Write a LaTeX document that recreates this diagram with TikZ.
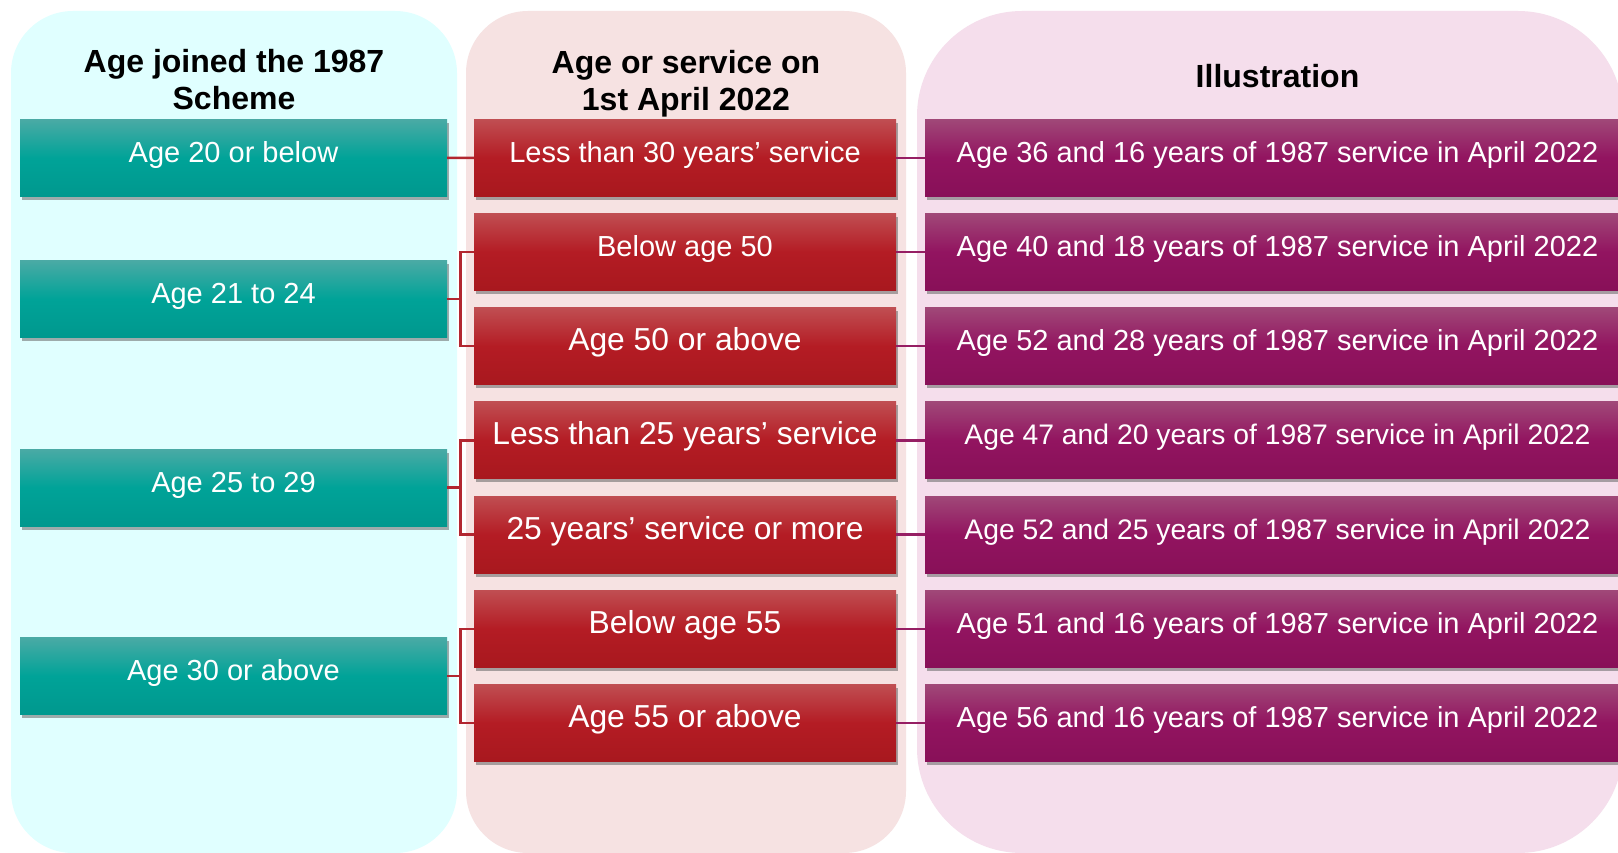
\documentclass[tikz,border=0pt]{standalone}
\usepackage{fontspec}
\setmainfont{Liberation Sans}
\usetikzlibrary{shadows}

\definecolor{panelcyan}{RGB}{224,255,255}
\definecolor{panelpink}{RGB}{246,226,226}
\definecolor{panelmauve}{RGB}{245,222,236}
\definecolor{tealtop}{RGB}{74,170,165}
\definecolor{tealmid}{RGB}{0,163,152}
\definecolor{tealbot}{RGB}{0,152,142}
\definecolor{redtop}{RGB}{192,78,82}
\definecolor{redmid}{RGB}{180,28,36}
\definecolor{redbot}{RGB}{168,24,30}
\definecolor{plumtop}{RGB}{160,72,120}
\definecolor{plummid}{RGB}{146,20,96}
\definecolor{plumbot}{RGB}{136,16,88}
\definecolor{linkred}{RGB}{178,38,48}
\definecolor{linkplum}{RGB}{150,30,100}

\begin{document}
\begin{tikzpicture}[
  x=1pt, y=-1pt,
  box/.style={minimum height=77, inner sep=0pt, text=white,
    font=\fontsize{29}{31}\selectfont, text height=22pt, text depth=13pt,
    drop shadow={shadow xshift=2pt, shadow yshift=-3.5pt, opacity=0.55, fill=black!60}},
  big/.style={font=\fontsize{31.8}{34}\selectfont},
  small/.style={font=\fontsize{28.3}{30}\selectfont},
  agebox/.style={box, minimum width=427, top color=tealtop, bottom color=tealbot, middle color=tealmid},
  svcbox/.style={box, minimum width=422, top color=redtop, bottom color=redbot, middle color=redmid},
  illbox/.style={box, minimum width=705, top color=plumtop, bottom color=plumbot, middle color=plummid},
  head/.style={align=center, font=\fontsize{32}{37}\selectfont\bfseries},
  redlink/.style={draw=linkred, line width=2.5pt},
  plumlink/.style={draw=linkplum, line width=2.5pt}
]
\clip (0,0) rectangle (1618,853);
\fill[white] (0,0) rectangle (1618,853);

% column panels
\fill[panelcyan, rounded corners=62] (11,11) rectangle (457,853);
\fill[panelpink, rounded corners=62] (466,11) rectangle (906,853);
\fill[panelmauve, rounded corners=105] (917,11) rectangle (1623,853);

% headings
\node[head] (head1) at (234,80) {Age joined the 1987\\Scheme};
\node[head] (head2) at (686,83.4) {Age or service on\\1st April 2022};
\node[head] (head3) at (1277.5,76.4) {Illustration};

% age joined
\node[agebox] (age1) at (233.5,158) {Age 20 or below};
\node[agebox] (age2) at (233.5,299) {Age 21 to 24};
\node[agebox] (age3) at (233.5,487.5) {Age 25 to 29};
\node[agebox] (age4) at (233.5,676) {Age 30 or above};

% age or service
\node[svcbox] (svc1) at (685,157.8) {Less than 30 years’ service};
\node[svcbox] (svc2) at (685,252) {Below age 50};
\node[svcbox, big] (svc3) at (685,346.2) {Age 50 or above};
\node[svcbox, big] (svc4) at (685,440.4) {Less than 25 years’ service};
\node[svcbox, big] (svc5) at (685,534.6) {25 years’ service or more};
\node[svcbox, big] (svc6) at (685,628.8) {Below age 55};
\node[svcbox, big] (svc7) at (685,723) {Age 55 or above};

% illustration
\node[illbox] (ill1) at (1277.5,157.8) {Age 36 and 16 years of 1987 service in April 2022};
\node[illbox] (ill2) at (1277.5,252) {Age 40 and 18 years of 1987 service in April 2022};
\node[illbox] (ill3) at (1277.5,346.2) {Age 52 and 28 years of 1987 service in April 2022};
\node[illbox, small] (ill4) at (1277.5,440.4) {Age 47 and 20 years of 1987 service in April 2022};
\node[illbox, small] (ill5) at (1277.5,534.6) {Age 52 and 25 years of 1987 service in April 2022};
\node[illbox] (ill6) at (1277.5,628.8) {Age 51 and 16 years of 1987 service in April 2022};
\node[illbox] (ill7) at (1277.5,723) {Age 56 and 16 years of 1987 service in April 2022};

% brackets
\draw[redlink] (age1.east) -- (svc1.west);
\draw[redlink] (svc2.west) -- ++(-13.5,0) |- (age2.east);
\draw[redlink] (svc3.west) -- ++(-13.5,0) |- (age2.east);
\draw[redlink] (svc4.west) -- ++(-13.5,0) |- (age3.east);
\draw[redlink] (svc5.west) -- ++(-13.5,0) |- (age3.east);
\draw[redlink] (svc6.west) -- ++(-13.5,0) |- (age4.east);
\draw[redlink] (svc7.west) -- ++(-13.5,0) |- (age4.east);

\draw[plumlink] (svc1.east) -- (ill1.west);
\draw[plumlink] (svc2.east) -- (ill2.west);
\draw[plumlink] (svc3.east) -- (ill3.west);
\draw[plumlink] (svc4.east) -- (ill4.west);
\draw[plumlink] (svc5.east) -- (ill5.west);
\draw[plumlink] (svc6.east) -- (ill6.west);
\draw[plumlink] (svc7.east) -- (ill7.west);
\end{tikzpicture}
\end{document}
